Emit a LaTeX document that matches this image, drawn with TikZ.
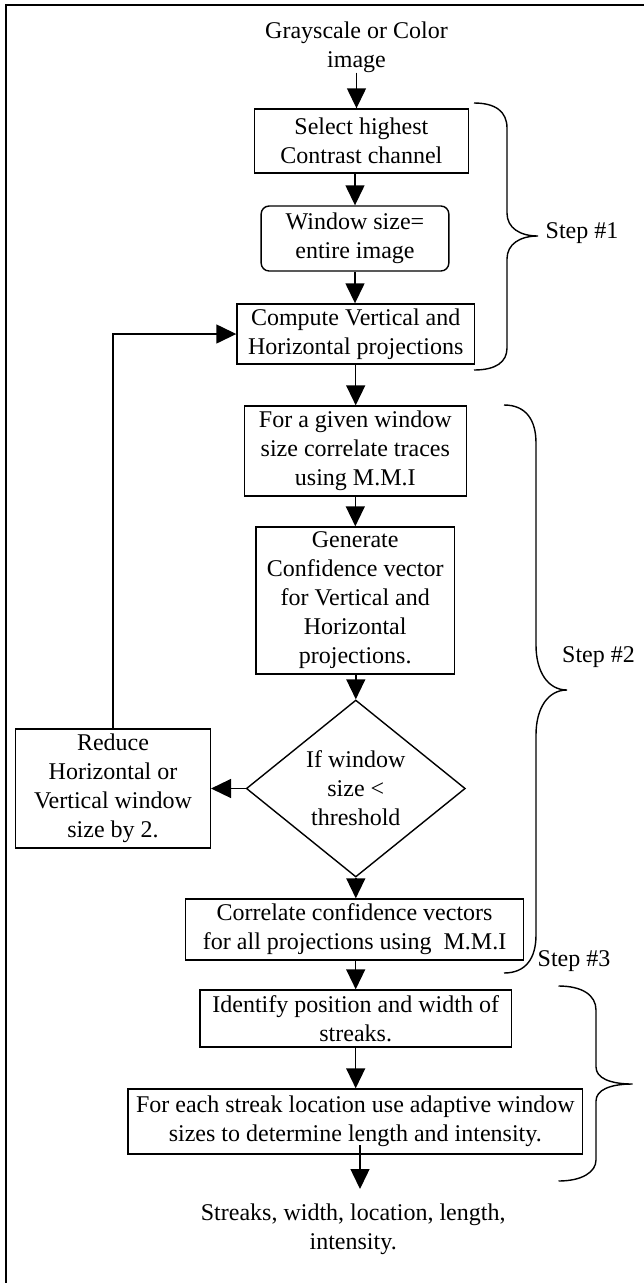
\documentclass[tikz,border=0pt]{standalone}
\usepackage{fontspec}
\setmainfont{Liberation Serif}
\usetikzlibrary{shapes.geometric,arrows.meta}
\begin{document}
\begin{tikzpicture}[x=1pt,y=-1pt,
  box/.style={draw,line width=1.4pt,inner sep=0pt,align=center,font=\fontsize{24}{29}\selectfont},
  txt/.style={inner sep=0pt,align=center,font=\fontsize{24}{29}\selectfont},
  arr/.style={line width=1.4pt,-{Triangle[length=20pt,width=19pt]}},
  brace/.style={line width=1.4pt},
]
\useasboundingbox (0,0) rectangle (644,1283);
\draw[line width=2pt] (6,1290) -- (6,5) -- (650,5);

\node[txt] (in) at (356.5,47) {Grayscale or Color\\image};
\node[box,minimum width=213.6pt,minimum height=64pt] (b1) at (361.4,141) {Select highest\\Contrast channel};
\node[box,rounded corners=8pt,minimum width=187.7pt,minimum height=65pt] (b2) at (355,238.5) {Window size=\\entire image};
\node[box,minimum width=237.4pt,minimum height=60pt] (b3) at (355.7,334) {Compute Vertical and\\Horizontal projections};
\node[box,minimum width=221.8pt,minimum height=90pt] (b4) at (355.3,451) {For a given window\\size correlate traces\\using M.M.I};
\node[box,minimum width=198.7pt,minimum height=147pt] (b5) at (355.2,600.5) {Generate\\Confidence vector\\for Vertical and\\Horizontal\\projections.};
\node[box,shape=diamond,minimum width=219pt,minimum height=177pt] (d) at (355.8,788.5) {If window\\size <\\threshold};
\node[box,minimum width=194.7pt,minimum height=119pt] (r) at (113,788.5) {Reduce\\Horizontal or\\Vertical window\\size by 2.};
\node[box,minimum width=338pt,minimum height=61pt] (b7) at (354.6,929.5) {Correlate confidence vectors\\for all projections using\ \ M.M.I};
\node[box,minimum width=311.3pt,minimum height=57pt] (b8) at (355.7,1018.5) {Identify position and width of\\streaks.};
\node[box,minimum width=454.3pt,minimum height=65pt] (b9) at (355.3,1121.5) {For each streak location use adaptive window\\sizes to determine length and intensity.};
\node[txt] (out) at (353.2,1229) {Streaks, width, location, length,\\intensity.};

\node[txt] (s1) at (582,233) {Step \#1};
\node[txt] (s2) at (598.5,657) {Step \#2};
\node[txt] (s3) at (574,961) {Step \#3};

\coordinate (o1) at (360,1145);
\coordinate (o2) at (360,1189);

\draw[arr] (in.south) -- (in.south |- b1.north);
\draw[arr] (b2.north |- b1.south) -- (b2.north);
\draw[arr] (b2.south) -- (b2.south |- b3.north);
\draw[arr] (b3.south) -- (b3.south |- b4.north);
\draw[arr] (b4.south) -- (b4.south |- b5.north);
\draw[arr] (b5.south -| d.north) -- (d.north);
\draw[arr] (d.west) -- (r.east);
\draw[arr] (d.south) -- (d.south |- b7.north);
\draw[arr] (r.north) |- (b3.west);
\draw[arr] (b7.south -| b8.north) -- (b8.north);
\draw[arr] (b8.south) -- (b8.south |- b9.north);
\draw[arr] (o1) -- (o2);

\draw[brace] (474,103) .. controls (496,103) and (507,112) .. (507,128) -- (507,213)
  .. controls (507,228) and (520,236) .. (538,236)
  .. controls (520,236) and (507,244) .. (507,259) -- (507,348)
  .. controls (507,362) and (496,370) .. (474,370);
\draw[brace] (504,405) .. controls (526,405) and (536,420) .. (536,443) -- (536,645)
  .. controls (536,672) and (548,690) .. (567,690)
  .. controls (548,690) and (536,708) .. (536,735) -- (536,935)
  .. controls (536,958) and (526,973) .. (504,973);
\draw[brace] (558.5,986) .. controls (582,986) and (596,995) .. (596,1010) -- (596,1067)
  .. controls (596,1078) and (610,1084) .. (632.5,1084)
  .. controls (610,1084) and (596,1090) .. (596,1101) -- (596,1160)
  .. controls (596,1172) and (582,1181) .. (558.5,1181);
\end{tikzpicture}
\end{document}
